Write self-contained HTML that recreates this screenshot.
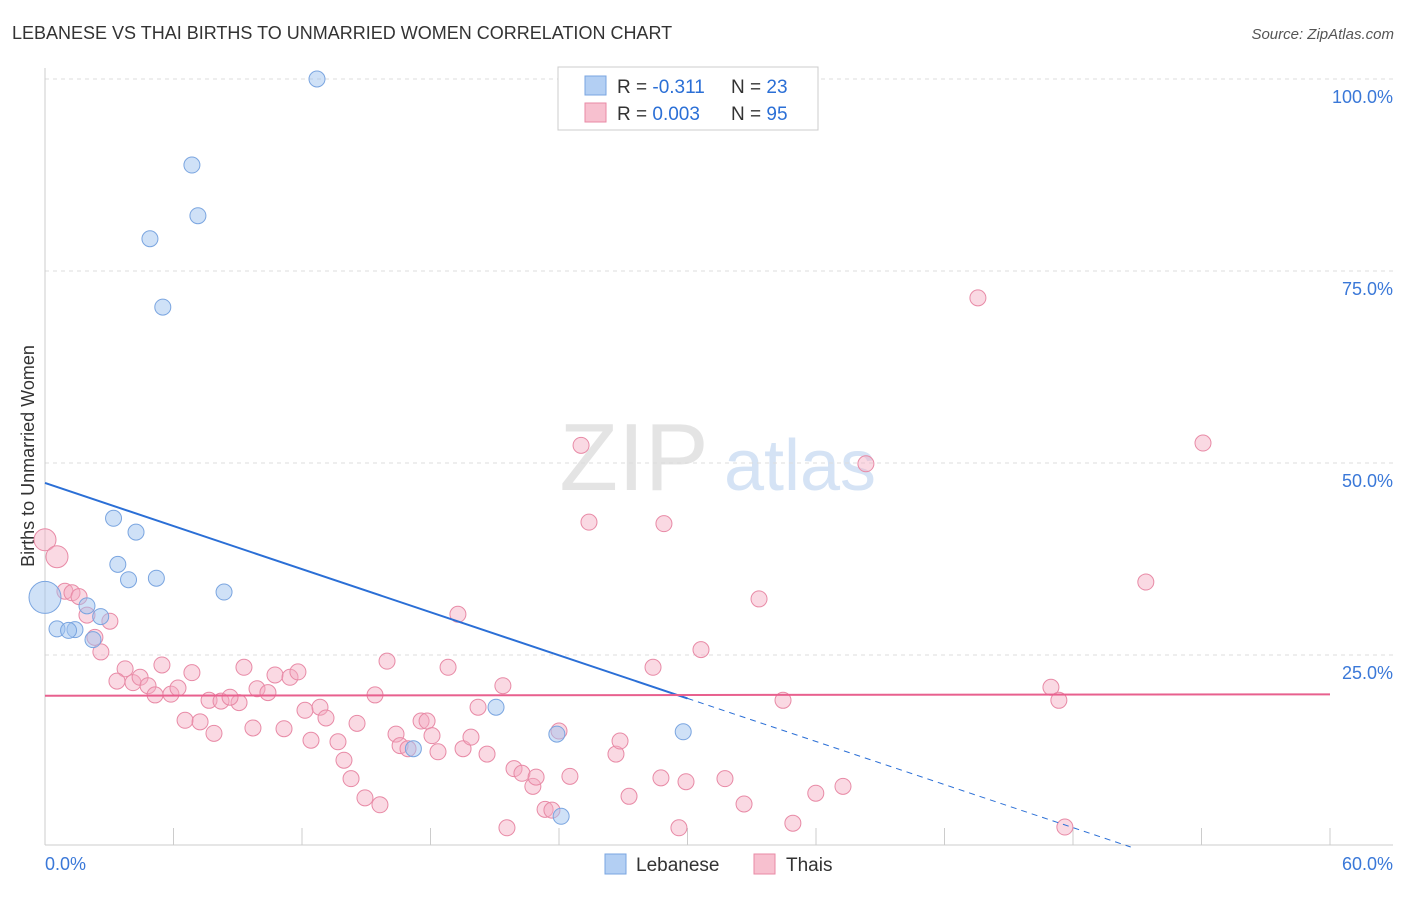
<!DOCTYPE html>
<html><head><meta charset="utf-8"><style>
body{margin:0;background:#fff;font-family:"Liberation Sans",sans-serif;}
svg text{font-family:"Liberation Sans",sans-serif;}
</style></head><body>
<svg id="chart" width="1406" height="892" xmlns="http://www.w3.org/2000/svg">
<text x="12" y="39" font-size="18" fill="#333">LEBANESE VS THAI BIRTHS TO UNMARRIED WOMEN CORRELATION CHART</text>
<text x="1394" y="39" font-size="15" fill="#555" font-style="italic" text-anchor="end">Source: ZipAtlas.com</text>
<text x="634" y="490" font-size="96" fill="#e4e4e4" font-family="Liberation Serif" text-anchor="middle">ZIP</text>
<text x="800" y="490" font-size="72" fill="#d5e3f5" text-anchor="middle">atlas</text>
<g id="grid"></g>
<line x1="45" y1="68" x2="45" y2="845" stroke="#ccc"/>
<line x1="45" y1="845" x2="1393" y2="845" stroke="#ccc"/>
<text transform="translate(34,456) rotate(-90)" font-size="18" fill="#333" text-anchor="middle">Births to Unmarried Women</text>
<text x="45" y="870" font-size="18" fill="#3a78d8">0.0%</text>
<text x="1393" y="870" font-size="18" fill="#3a78d8" text-anchor="end">60.0%</text>
<g id="marks"></g>
<g>
<rect x="558" y="67" width="260" height="63" fill="#fff" stroke="#ccc"/>
<rect x="585" y="76" width="21" height="19" fill="#b3cff3" stroke="#7aa5e0"/>
<rect x="585" y="103" width="21" height="19" fill="#f7c0cf" stroke="#e88aa6"/>
<text x="617" y="93" font-size="19" fill="#333">R = <tspan fill="#2b6fd6">-0.311</tspan></text>
<text x="731" y="93" font-size="19" fill="#333">N = <tspan fill="#2b6fd6">23</tspan></text>
<text x="617" y="120" font-size="19" fill="#333">R = <tspan fill="#2b6fd6">0.003</tspan></text>
<text x="731" y="120" font-size="19" fill="#333">N = <tspan fill="#2b6fd6">95</tspan></text>
</g>
<g>
<rect x="605" y="854" width="21" height="20" fill="#b3cff3" stroke="#7aa5e0"/>
<text x="636" y="871" font-size="19" fill="#333">Lebanese</text>
<rect x="754" y="854" width="21" height="20" fill="#f7c0cf" stroke="#e88aa6"/>
<text x="786" y="871" font-size="19" fill="#333">Thais</text>
</g>
</svg>
<script>
const yTicks=[25,50,75,100];
const yTickLabels=["25.0%","50.0%","75.0%","100.0%"];
const xTicks=[0,6,12,18,24,30,36,42,48,54,60];
const lebX=[12.7,6.86,7.14,4.9,5.5,3.2,4.25,3.4,5.2,3.9,8.36,0,1.96,2.6,0.56,1.4,2.24,21.06,17.2,23.9,29.8,24.1,1.1];
const lebY=[100,88.8,82.2,79.2,70.3,42.8,41,36.8,35,34.8,33.2,32.5,31.4,30,28.4,28.3,27,18.2,12.8,14.7,15,4.0,28.2];
const thX=[0,0.56,0.93,1.26,1.59,1.96,3.03,2.33,2.61,3.74,3.36,4.11,4.44,4.81,5.14,5.46,5.88,6.21,6.86,7.66,8.22,9.06,8.64,9.29,9.9,10.41,10.74,11.44,11.81,6.54,7.24,7.89,9.71,11.16,12.14,12.84,13.12,12.42,13.68,13.96,14.29,14.57,14.94,15.41,15.64,15.97,16.39,16.58,16.95,17.56,17.84,18.07,18.35,18.82,19.28,19.52,19.89,20.22,20.64,21.38,21.57,21.9,22.27,22.78,22.93,23.35,23.67,24.0,24.51,25.03,25.4,26.66,26.85,27.27,28.39,28.76,28.9,29.6,29.93,30.63,31.75,32.64,33.34,34.46,34.92,35.99,37.26,38.33,43.56,46.97,47.34,47.62,51.4,54.07];
const thY=[40,37.8,33.3,33.1,32.6,30.2,29.4,27.3,25.4,23.2,21.6,21.4,22.1,21.0,19.8,23.7,19.9,20.7,22.7,19.1,19.0,18.8,19.5,23.4,20.6,20.1,22.4,22.1,22.8,16.5,16.3,14.8,15.5,15.4,17.8,18.2,16.8,13.9,13.7,11.3,8.9,16.1,6.4,19.8,5.5,24.2,14.7,13.2,12.8,16.4,16.4,14.5,12.4,23.4,30.3,12.8,14.3,18.2,12.1,21.0,2.5,10.2,9.6,7.9,9.1,4.9,4.8,15.1,9.2,52.3,42.3,12.1,13.8,6.6,23.4,9.0,42.1,2.5,8.5,25.7,8.9,5.6,32.3,19.1,3.1,7.0,7.9,49.9,71.5,20.8,19.1,2.6,34.5,52.6];
const lebTrend=[47.4,-0.935];
const thTrend=[19.7,0.003];
const sx=v=>45+v/60*1285, sy=v=>847-v*7.68;
const NS="http://www.w3.org/2000/svg";
function mk(tag,attrs,parent){const e=document.createElementNS(NS,tag);for(const k in attrs)e.setAttribute(k,attrs[k]);parent.appendChild(e);return e;}
const grid=document.getElementById('grid'), marks=document.getElementById('marks');
yTicks.forEach((t,i)=>{
 const l=mk('line',{x1:45,x2:1393,y1:sy(t),y2:sy(t),stroke:'#ddd','stroke-dasharray':'4,4'},grid);
 
 
 const tx=mk('text',{x:1393,y:sy(t)+24,'font-size':18,fill:'#3a78d8','text-anchor':'end'},grid);
 tx.textContent=yTickLabels[i];
 
 
});
xTicks.forEach(t=>{
 const l=mk('line',{x1:sx(t),x2:sx(t),y1:828,y2:845,stroke:'#ccc'},grid);
 
 
});
thX.forEach((x,i)=>{
 const big=i<2;
 const c=mk('circle',{cx:sx(x),cy:sy(thY[i]),r:big?11:8,fill:'rgba(245,170,192,0.45)',stroke:'#e88aa6','stroke-width':1},marks);
 
 
});
lebX.forEach((x,i)=>{
 const big=i===11;
 const c=mk('circle',{cx:sx(x),cy:sy(lebY[i]),r:big?16:8,fill:'rgba(160,195,240,0.5)',stroke:'#7aa5e0','stroke-width':1},marks);
 
 
});
const lf=x=>lebTrend[0]+lebTrend[1]*x;
const x0=-lebTrend[0]/lebTrend[1];
let l1=mk('line',{x1:sx(0),y1:sy(lf(0)),x2:sx(30),y2:sy(lf(30)),stroke:'#2b6fd6','stroke-width':2},marks);


let l2=mk('line',{x1:sx(30),y1:sy(lf(30)),x2:sx(x0),y2:sy(0),stroke:'#2b6fd6','stroke-width':1,'stroke-dasharray':'6,5'},marks);


let l3=mk('line',{x1:sx(0),y1:sy(thTrend[0]),x2:sx(60),y2:sy(thTrend[0]+thTrend[1]*60),stroke:'#e8608e','stroke-width':2},marks);


</script>
</body></html>
